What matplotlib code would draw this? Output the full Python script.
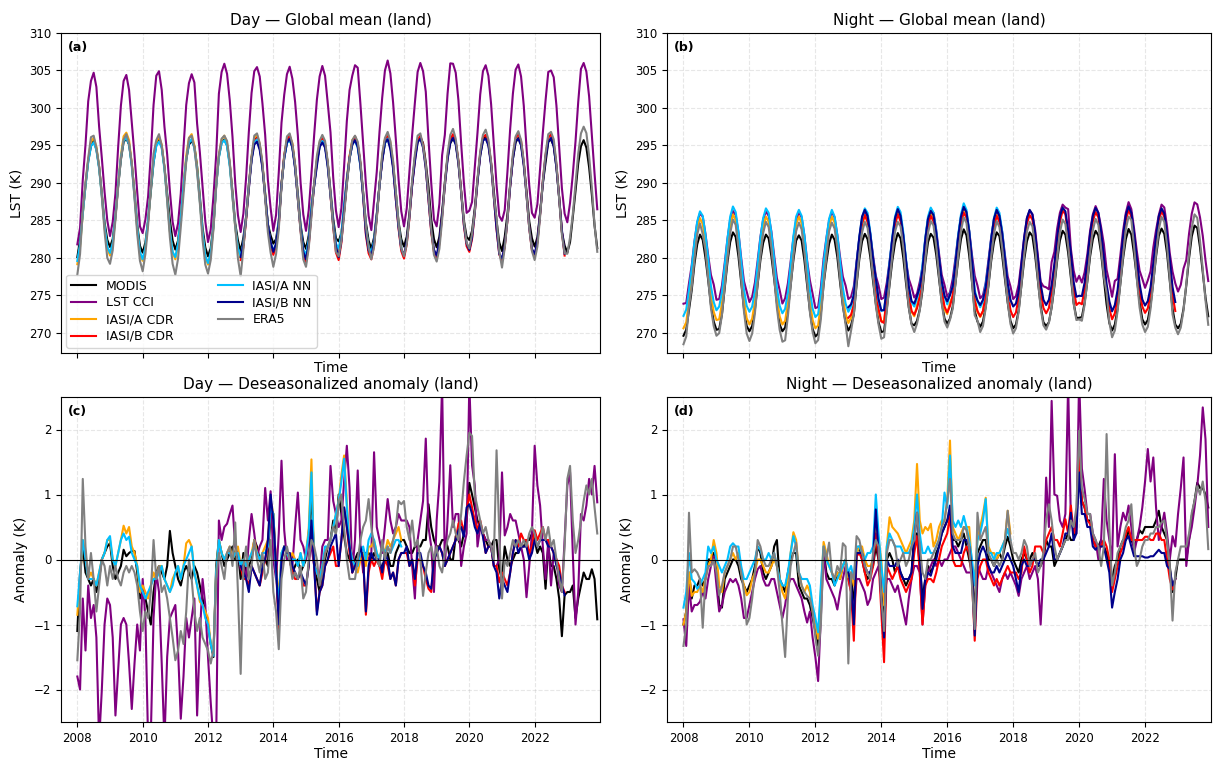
"""Global land LST: monthly means and deseasonalized anomalies, day and night.

The anomaly series are typed month by month (Jan 2008 onwards). The upper
panels show the absolute LST, i.e. each product's monthly climatology plus
its anomaly.
"""

import matplotlib
matplotlib.use("Agg")
import matplotlib.pyplot as plt
import numpy as np

# ---------------------------------------------------------------------------
# Monthly climatologies (Jan..Dec), K
# ---------------------------------------------------------------------------
day_clim_modis = [281.2, 282.6, 285.8, 289.8, 293.2, 295.3, 295.9, 295.0, 292.4, 288.6, 284.6, 282.2]
day_clim_cci = [283.6, 286.0, 291.0, 296.5, 301.3, 304.5, 305.4, 304.0, 300.3, 295.3, 289.8, 285.6]
day_clim_iasia_cdr = [280.0, 281.8, 285.5, 289.8, 293.4, 295.7, 296.3, 295.2, 292.4, 288.3, 284.0, 281.0]
day_clim_iasib_cdr = [279.8, 281.7, 285.4, 289.8, 293.4, 295.7, 296.3, 295.2, 292.4, 288.2, 283.9, 280.8]
day_clim_iasia_nn = [280.3, 282.0, 285.6, 289.7, 293.1, 295.2, 295.7, 294.8, 292.1, 288.2, 284.1, 281.2]
day_clim_iasib_nn = [280.2, 282.0, 285.6, 289.7, 293.1, 295.3, 295.8, 294.8, 292.1, 288.2, 284.1, 281.1]
day_clim_era5 = [279.3, 281.3, 285.2, 289.8, 293.6, 296.0, 296.6, 295.5, 292.6, 288.2, 283.6, 280.4]

night_clim_modis = [270.6, 271.2, 273.2, 276.3, 279.6, 282.2, 283.4, 282.8, 280.3, 277.0, 273.7, 271.4]
night_clim_cci = [274.8, 275.3, 277.0, 279.8, 282.9, 285.4, 286.6, 286.0, 283.8, 280.6, 277.8, 276.4]
night_clim_iasia_cdr = [271.6, 272.2, 274.4, 277.8, 281.3, 284.2, 285.7, 285.0, 282.3, 278.5, 274.9, 272.5]
night_clim_iasib_cdr = [272.3, 272.9, 275.0, 278.4, 281.8, 284.6, 285.9, 285.2, 282.7, 279.1, 275.5, 273.2]
night_clim_iasia_nn = [273.0, 273.6, 275.6, 279.0, 282.5, 285.3, 286.6, 285.9, 283.3, 279.7, 276.1, 273.9]
night_clim_iasib_nn = [273.6, 274.2, 276.0, 279.2, 282.7, 285.4, 286.5, 285.8, 283.3, 279.9, 276.5, 274.4]
night_clim_era5 = [269.8, 270.5, 272.8, 276.3, 280.0, 283.3, 284.9, 284.2, 281.3, 277.3, 273.4, 270.9]

# ---------------------------------------------------------------------------
# Day anomalies, K (one line per year)
# ---------------------------------------------------------------------------
day_anom_modis = [  # 2008-2023
    -1.1, -0.2, 0.2, -0.2, -0.3, -0.4, -0.3, -0.5, -0.3, 0.0, 0.1, 0.2,
    0.25, -0.1, -0.3, -0.2, -0.1, 0.15, 0.05, 0.1, 0.13, 0.13, -0.2, -0.6,
    -0.5, -0.6, -0.8, -1.0, -0.5, -0.2, -0.1, -0.2, -0.3, -0.1, 0.44, 0.1,
    -0.1, -0.3, -0.4, -0.2, -0.1, -0.2, -0.3, -0.1, -0.2, -0.4, -0.6, -0.8,
    -1.0, -1.3, -1.5, -0.1, 0.3, 0.1, -0.1, 0.0, 0.1, 0.2, 0.0, 0.1,
    -0.3, 0.1, -0.3, -0.1, 0.0, 0.3, 0.2, 0.0, -0.1, 0.0, -0.1, 0.8,
    0.7, -0.1, -0.9, 0.0, 0.2, 0.1, 0.0, -0.2, -0.1, 0.0, -0.2, -0.1,
    0.0, 0.4, 1.0, 0.0, -0.3, -0.5, -0.2, 0.0, 0.2, 0.3, 0.6, 0.4,
    1.0, 0.7, 0.36, 0.1, 0.0, -0.1, 0.0, 0.1, 0.1, 0.1, 0.1, 0.1,
    0.0, 0.1, 0.0, -0.1, -0.1, 0.0, 0.1, -0.1, -0.1, 0.1, 0.2, 0.3,
    0.3, 0.2, 0.1, 0.1, 0.2, 0.2, 0.2, 0.3, 0.3, 0.85, 0.5, 0.3,
    0.2, 0.2, 0.3, 0.3, 0.2, 0.0, 0.0, 0.36, 0.3, 0.2, 0.4, 0.6,
    1.18, 1.0, 0.8, 0.6, 0.5, 0.4, 0.3, 0.2, 0.2, 0.3, 0.3, -0.15,
    -0.3, 0.2, 0.0, -0.1, 0.0, 0.1, 0.1, 0.2, 0.2, 0.3, 0.3, 0.4,
    0.3, 0.1, 0.2, 0.1, -0.45, 0.2, -0.1, -0.1, -0.3, -0.6, -1.18, -0.55,
    -0.5, -0.5, -0.4, -0.9, -0.6, -0.4, -0.2, -0.3, -0.3, -0.15, -0.3, -0.92,
]
day_anom_cci = [  # 2008-2023
    -1.8, -2.0, -0.6, -1.4, -0.4, -0.9, -0.7, -1.2, -2.8, -2.0, -1.0, -0.6,
    -0.7, -1.2, -2.4, -1.7, -1.0, -0.9, -1.0, -1.6, -2.3, -1.6, -1.0, -1.4,
    -0.3, -0.9, -2.8, -2.7, -0.9, -0.2, -0.5, -1.6, -2.8, -1.5, -0.9, -0.8,
    -0.7, -1.4, -2.45, -1.8, -0.9, -1.2, -0.9, -0.6, -2.4, -1.2, -0.3, -0.7,
    -1.5, -2.2, -2.8, -2.8, 0.6, 0.3, 0.5, 0.55, 0.7, 0.83, 0.2, 0.1,
    -0.15, -0.1, -0.3, 0.3, 0.7, 0.4, 0.05, 0.2, 0.3, 1.1, 0.6, 1.05,
    0.0, -0.3, 0.4, 1.52, 0.45, 0.0, 0.1, -0.1, 0.5, 1.03, 0.3, 0.2,
    0.0, 0.35, 0.2, -0.1, -0.2, -0.3, 0.2, 0.3, 0.3, 1.44, 0.9, 0.7,
    0.5, 0.6, 1.2, 1.75, 1.1, -0.2, 0.3, 1.37, 0.2, -0.2, 0.1, 0.0,
    0.1, 1.65, 0.5, 0.3, 0.1, 0.5, 0.93, 0.6, 0.4, 0.5, 0.7, 0.6,
    0.6, 0.6, 0.5, -0.1, -0.6, 0.3, 0.6, 0.9, 1.86, 0.5, 0.2, -0.5,
    0.6, 1.2, 2.7, -0.1, 0.6, 1.45, 0.5, 0.7, 0.7, -0.1, 0.2, 0.4,
    2.7, 1.45, 1.14, 0.2, 0.5, 0.4, 0.3, 0.3, 0.2, -0.1, -0.1, 0.0,
    1.34, 0.37, 0.5, 0.7, 0.6, 0.6, 0.4, 0.2, 0.0, -0.58, -0.1, 0.4,
    1.75, 1.14, 0.83, 0.2, -0.3, 0.3, -0.4, 0.1, 0.0, -0.4, -0.5, 0.3,
    1.14, 1.34, 0.1, -1.0, -0.5, 0.7, 0.6, 0.83, 1.24, 1.0, 1.44, 0.88,
]
day_anom_iasia_cdr = [  # 2008-2017
    -0.85, -0.3, 0.3, 0.1, -0.3, -0.2, -0.3, -0.4, -0.2, 0.0, 0.1, 0.3,
    0.3, 0.0, -0.1, 0.1, 0.3, 0.52, 0.4, 0.5, 0.2, 0.1, -0.1, -0.5,
    -0.4, -0.5, -0.6, -0.4, -0.2, -0.3, -0.1, -0.1, -0.3, -0.4, -0.5, -0.3,
    -0.2, -0.1, -0.3, -0.1, 0.25, 0.3, 0.2, -0.2, -0.4, -0.65, -0.7, -0.8,
    -0.9, -1.3, -1.45, -0.2, 0.3, 0.1, 0.0, 0.1, 0.2, 0.0, 0.1, 0.2,
    -0.1, 0.0, -0.1, 0.0, 0.1, 0.3, 0.1, 0.0, 0.1, 0.2, 0.3, 0.9,
    0.7, -0.1, -0.6, 0.1, 0.2, 0.1, 0.0, 0.1, 0.0, -0.1, 0.1, -0.1,
    0.1, 0.47, 1.54, -0.1, -0.2, -0.3, -0.1, 0.1, 0.2, 0.3, 0.5, 0.7,
    0.9, 1.3, 1.6, 0.9, 0.2, 0.0, -0.1, -0.2, 0.0, 0.1, -0.1, 0.2,
    0.2, 0.3, 0.1, 0.0, 0.2, 0.1, 0.3, 0.2, 0.3, 0.4, 0.5, 0.3,
]
day_anom_iasib_cdr = [  # 2013-2022
    -0.1, -0.3, -0.3, -0.4, -0.1, -0.2, -0.3, -0.4, -0.2, 0.0, 0.2, 0.9,
    0.6, -0.1, -1.07, 0.0, 0.2, 0.1, 0.0, -0.2, -0.3, -0.3, -0.2, -0.4,
    -0.4, -0.1, 0.5, -0.1, -0.8, -0.5, -0.4, -0.1, 0.0, 0.1, 0.2, -0.1,
    -0.1, 0.3, 0.8, 0.5, 0.1, -0.2, -0.1, 0.0, 0.1, 0.0, -0.85, -0.2,
    0.0, -0.1, 0.0, -0.1, -0.3, 0.0, -0.1, -0.3, -0.2, -0.4, 0.0, 0.1,
    0.1, 0.1, -0.1, 0.0, -0.4, 0.0, 0.0, -0.1, -0.3, -0.45, -0.5, 0.0,
    0.1, 0.2, 0.1, -0.1, 0.0, 0.1, 0.2, 0.3, 0.55, 0.6, 0.4, 0.75,
    1.0, 0.8, 0.6, 0.45, 0.6, 0.4, 0.1, 0.2, 0.2, -0.1, -0.1, -0.35,
    -0.2, -0.3, -0.4, -0.2, 0.1, 0.3, 0.2, 0.4, 0.3, 0.3, 0.1, 0.2,
    0.45, 0.3, 0.4, 0.5, 0.3, 0.3, 0.2, 0.1, 0.0, -0.1, -0.4, -0.5,
]
day_anom_iasia_nn = [  # 2008-2017
    -0.72, -0.2, 0.3, 0.0, -0.3, -0.3, -0.3, -0.4, -0.2, 0.0, 0.1, 0.3,
    0.36, 0.0, -0.1, 0.1, 0.3, 0.4, 0.3, 0.35, 0.1, 0.0, -0.1, -0.4,
    -0.5, -0.6, -0.5, -0.4, -0.3, -0.3, -0.2, -0.1, -0.3, -0.4, -0.5, -0.4,
    -0.2, -0.1, -0.3, -0.1, 0.0, 0.1, 0.2, -0.2, -0.4, -0.6, -0.7, -0.9,
    -1.0, -1.3, -1.48, -0.2, 0.3, 0.1, 0.0, 0.1, 0.1, 0.0, 0.1, 0.1,
    -0.1, 0.0, -0.1, 0.0, 0.1, 0.2, 0.1, 0.0, 0.1, 0.1, 0.2, 0.8,
    0.7, -0.2, -0.7, 0.1, 0.2, 0.1, 0.0, 0.0, 0.0, -0.1, 0.1, -0.1,
    0.1, 0.4, 1.34, -0.1, -0.2, -0.3, -0.1, 0.2, 0.2, 0.3, 0.5, 0.7,
    0.9, 1.2, 1.55, 0.8, 0.2, 0.0, -0.1, -0.1, 0.1, 0.2, 0.0, 0.3,
    0.4, 0.3, 0.1, 0.0, 0.2, 0.1, 0.2, 0.1, 0.2, 0.3, 0.3, 0.2,
]
day_anom_iasib_nn = [  # 2013-2022
    -0.1, -0.2, -0.3, -0.5, -0.1, -0.2, -0.3, -0.4, -0.1, 0.0, 0.3, 1.0,
    0.6, -0.1, -1.0, 0.0, 0.2, 0.1, 0.1, -0.1, -0.2, -0.3, -0.2, -0.3,
    -0.4, -0.1, 0.6, -0.1, -0.85, -0.5, -0.4, -0.1, 0.0, 0.2, 0.3, 0.4,
    -0.1, 0.3, 0.8, 0.5, 0.2, -0.2, -0.1, 0.0, 0.2, 0.0, -0.8, -0.1,
    0.1, 0.0, 0.0, 0.0, -0.2, 0.1, 0.0, -0.3, -0.2, -0.4, 0.0, 0.1,
    0.1, 0.2, -0.1, 0.0, -0.3, 0.1, 0.1, -0.1, -0.2, -0.4, -0.45, 0.0,
    0.1, 0.2, 0.1, -0.1, 0.0, 0.1, 0.2, 0.3, 0.45, 0.5, 0.35, 0.8,
    0.85, 0.7, 0.5, 0.4, 0.55, 0.35, 0.1, 0.2, 0.2, -0.1, -0.2, -0.6,
    -0.3, -0.4, -0.5, -0.2, 0.1, 0.3, 0.1, 0.2, 0.2, 0.2, 0.0, 0.1,
    0.3, 0.2, 0.3, 0.3, 0.3, 0.2, 0.2, 0.1, -0.1, -0.2, -0.4, -0.55,
]
day_anom_era5 = [  # 2008-2023
    -1.55, -0.8, 1.24, 0.2, -0.3, 0.1, -0.3, -0.8, -0.4, 0.0, -0.1, -0.4,
    -0.1, -0.3, -0.1, -0.3, -0.4, -0.2, -0.1, -0.2, -0.1, -0.2, -0.4, -0.8,
    -1.1, -0.8, -0.9, -0.5, 0.3, -0.3, -0.1, -0.5, -0.4, -0.6, -0.9, -1.2,
    -1.55, -1.4, -1.1, -1.3, -0.8, 0.0, -0.3, -0.8, -1.1, -0.9, -1.2, -1.3,
    -1.4, -1.6, -1.4, -0.3, 0.1, -0.1, -0.3, 0.1, 0.2, -0.1, 0.57, -0.5,
    -1.76, -0.1, 0.2, -0.3, -0.1, 0.3, 0.0, -0.2, 0.1, -0.3, -0.2, 0.3,
    -0.5, -0.8, -1.38, -0.3, 0.0, 0.2, 0.0, -0.3, -0.2, -0.3, -0.1, -0.6,
    -0.5, 0.0, 0.3, 0.2, 0.0, -0.4, -0.2, 0.1, 0.2, 0.3, 0.5, 0.4,
    0.9, 1.0, 0.5, 0.0, -0.3, -0.3, -0.3, 0.0, 0.3, 0.5, 0.6, 0.93,
    0.5, 0.2, 0.0, -0.1, 0.3, 0.0, 0.2, 0.1, 0.3, 0.5, 0.9, 0.85,
    0.9, 0.5, 0.3, 0.6, 0.2, 0.3, 0.0, -0.56, -0.2, 0.1, 0.2, 0.0,
    0.2, -0.1, -0.2, 0.1, 0.3, 0.4, 0.6, 0.4, 0.3, 0.7, 1.2, 1.6,
    1.95, 1.9, 1.0, 0.8, 0.6, 0.4, 0.5, 0.3, 0.2, 0.0, 1.68, 0.4,
    -0.6, 0.0, -0.1, 0.1, 0.3, 0.2, 0.3, 0.2, 0.3, 0.2, 0.4, 0.5,
    0.4, 0.2, 0.3, 0.5, 0.3, 0.5, 0.2, 0.3, 0.0, -0.3, -0.5, 0.2,
    1.24, 1.44, 0.6, 0.1, 0.3, 0.6, 0.9, 1.14, 1.0, 1.24, 0.8, 0.4,
]

# ---------------------------------------------------------------------------
# Night anomalies, K
# ---------------------------------------------------------------------------
night_anom_modis = [  # 2008-2023
    -1.0, -0.8, -0.2, -0.6, -0.4, -0.4, -0.3, -0.4, -0.3, 0.0, 0.0, 0.1,
    -0.2, -0.7, -0.74, -0.3, -0.2, -0.1, 0.0, 0.0, -0.1, -0.3, -0.4, -0.5,
    -0.4, -0.3, -0.1, 0.2, 0.1, -0.2, -0.3, -0.2, -0.1, 0.2, 0.3, -0.3,
    -0.4, -0.5, -0.2, 0.0, 0.1, 0.1, -0.4, -0.5, -0.6, -0.6, -0.7, -0.9,
    -1.1, -1.33, -0.6, 0.15, -0.2, -0.3, -0.3, -0.4, -0.2, -0.3, -0.1, 0.0,
    -0.3, -0.2, -0.76, 0.1, 0.2, 0.0, -0.2, -0.3, -0.2, -0.1, 0.2, 0.0,
    -0.5, -1.0, 0.0, 0.1, 0.0, -0.2, -0.1, -0.2, -0.3, -0.4, -0.3, -0.2,
    0.4, 0.4, -0.1, -0.6, -0.3, -0.1, -0.2, -0.1, 0.1, 0.2, 0.4, 0.5,
    0.6, 0.7, 0.3, 0.3, 0.2, 0.3, 0.4, 0.2, 0.0, -0.2, -0.8, 0.1,
    0.2, 0.3, 0.3, 0.0, 0.0, -0.1, 0.0, 0.1, 0.0, 0.2, 0.35, 0.2,
    0.0, -0.1, -0.2, 0.0, 0.1, 0.0, 0.0, 0.1, 0.0, -0.1, -0.1, 0.0,
    0.3, 0.2, 0.2, -0.1, 0.0, 0.1, 0.2, 0.3, 0.4, 0.3, 0.3, 0.6,
    1.39, 0.9, 0.8, 0.6, 0.6, 0.3, 0.2, 0.2, 0.3, 0.2, 0.1, -0.1,
    -0.3, -0.1, 0.0, 0.2, 0.3, 0.3, 0.45, 0.3, 0.2, 0.3, 0.45, 0.4,
    0.5, 0.5, 0.5, 0.5, 0.6, 0.75, 0.5, 0.4, 0.3, -0.1, -0.5, -0.3,
    0.0, 0.0, 0.0, 0.0, 0.3, 0.67, 0.9, 1.18, 1.1, 1.1, 1.0, 0.8,
]
night_anom_cci = [  # 2008-2023
    -0.92, -1.33, -0.4, -0.8, -0.7, -0.7, -0.65, -0.5, -0.6, -0.3, -0.1, 0.05,
    -0.4, -0.8, -0.7, -0.5, -0.4, -0.3, -0.35, -0.3, -0.4, -0.6, -0.9, -0.9,
    -0.7, -0.5, -0.3, -0.15, -0.1, -0.3, -0.4, -0.4, -0.3, -0.3, -0.5, -0.7,
    -0.9, -0.7, -0.4, -0.3, -0.3, -0.4, -0.5, -0.6, -0.8, -0.97, -0.8, -1.2,
    -1.5, -1.87, -0.9, 0.1, -0.3, -0.4, -0.5, -0.6, -0.77, -0.5, -0.3, -0.1,
    -0.3, -0.5, -0.8, -0.3, -0.3, -0.4, -0.5, -0.7, -0.6, -0.3, -0.2, -0.1,
    -0.3, -0.6, -0.3, -0.3, -0.4, -0.5, -0.4, -0.6, -0.8, -1.0, -0.6, -0.3,
    -0.1, -0.1, -0.2, -1.0, -0.4, -0.2, -0.1, 0.0, -0.1, 0.0, -0.1, 0.0,
    0.0, 0.1, 0.2, 0.2, 0.1, 0.0, -0.1, -0.2, -0.2, -0.2, -0.2, -0.1,
    -0.2, -0.3, -0.3, -0.1, -0.2, -0.3, -0.4, -0.5, -0.3, -0.2, -0.3, -0.2,
    -0.3, -0.4, -0.56, -0.3, -0.2, -0.1, -0.3, -0.2, -0.1, -0.3, -1.0, -0.2,
    1.26, 0.5, 2.44, 1.0, 0.98, 0.6, 0.5, 0.7, 2.7, 0.6, 0.5, 0.4,
    2.8, 1.4, 1.08, 0.7, 0.7, 0.4, 0.3, 0.0, 0.3, 1.24, 0.6, 0.3,
    0.0, 1.62, 0.2, 0.5, 0.72, 0.6, 0.83, 0.5, 0.1, 0.3, 0.5, 0.8,
    1.2, 1.7, 1.2, 1.57, 0.8, 0.3, 0.5, 0.72, 0.4, 0.0, 0.36, 0.2,
    0.7, 1.1, 1.57, -0.1, 0.3, 0.5, 0.8, 1.13, 1.6, 2.34, 1.85, 0.5,
]
night_anom_iasia_cdr = [  # 2008-2017
    -1.0, -0.8, -0.2, -0.56, -0.5, -0.5, -0.4, -0.5, -0.3, -0.1, 0.0, 0.3,
    0.1, -0.4, -0.5, -0.2, -0.1, 0.0, 0.1, 0.0, 0.1, -0.2, -0.4, -0.55,
    -0.5, -0.3, -0.2, 0.0, 0.0, -0.1, -0.2, -0.2, -0.1, 0.0, -0.1, -0.3,
    -0.5, -0.6, -0.3, 0.1, 0.42, 0.3, -0.2, -0.4, -0.5, -0.4, -0.5, -0.8,
    -1.0, -1.22, -0.5, 0.27, 0.1, -0.1, -0.2, -0.3, -0.2, -0.3, -0.1, 0.0,
    -0.3, -0.2, -0.4, 0.1, 0.2, 0.2, 0.0, -0.1, -0.1, 0.0, 0.52, 0.3,
    0.0, -0.7, 0.2, 0.65, 0.5, 0.45, 0.4, 0.3, 0.2, 0.1, 0.2, 0.3,
    0.6, 1.47, 0.6, 0.4, 0.5, 0.45, 0.55, 0.2, 0.3, 0.5, 0.6, 0.6,
    0.9, 1.83, 0.5, 0.4, 0.3, 0.4, 0.5, 0.5, 0.5, -0.1, -0.3, 0.3,
    0.5, 0.7, 0.95, 0.2, 0.1, 0.1, 0.0, 0.1, 0.2, 0.3, 0.75, 0.4,
]
night_anom_iasib_cdr = [  # 2013-2022
    -0.3, -0.5, -1.25, 0.05, 0.1, 0.0, -0.2, -0.4, -0.3, -0.1, 0.4, 0.0,
    -0.8, -1.58, -0.1, -0.2, -0.3, -0.2, -0.1, -0.3, -0.4, -0.5, -0.4, -0.3,
    0.1, 0.36, -0.2, -1.0, -0.4, -0.3, -0.3, -0.35, -0.2, 0.0, 0.2, 0.3,
    0.4, 0.67, 0.0, -0.1, -0.1, -0.1, 0.1, 0.2, 0.1, -0.3, -1.25, -0.3,
    -0.1, 0.0, 0.0, -0.2, -0.3, -0.4, -0.3, -0.4, -0.3, -0.2, -0.1, -0.2,
    -0.2, -0.2, -0.3, -0.2, 0.2, 0.0, -0.2, -0.1, 0.2, 0.2, 0.2, 0.1,
    0.3, 0.4, 0.5, 0.3, 0.3, 0.2, 0.4, 0.62, 0.4, 0.83, 0.4, 0.5,
    1.72, 0.9, 0.8, 0.6, 0.55, 0.3, 0.2, 0.2, 0.2, 0.3, 0.2, 0.0,
    -0.5, -0.3, -0.1, 0.1, 0.2, 0.4, 0.5, 0.3, 0.3, 0.3, 0.3, 0.3,
    0.35, 0.35, 0.3, 0.3, 0.4, 0.4, 0.3, 0.3, 0.0, -0.3, -0.46, -0.3,
]
night_anom_iasia_nn = [  # 2008-2017
    -0.74, -0.5, 0.1, -0.3, -0.35, -0.45, -0.4, -0.3, -0.2, 0.2, 0.1, 0.2,
    0.0, -0.1, -0.2, -0.1, 0.0, 0.2, 0.25, 0.2, 0.2, -0.1, -0.3, -0.3,
    -0.2, -0.1, 0.0, 0.2, 0.15, 0.0, 0.0, 0.1, 0.0, 0.1, -0.1, -0.3,
    -0.4, -0.4, -0.2, 0.1, 0.36, 0.2, -0.2, -0.3, -0.3, -0.3, -0.4, -0.7,
    -0.9, -1.12, -0.4, 0.2, 0.0, -0.1, -0.2, -0.4, -0.3, -0.2, -0.1, 0.0,
    -0.2, -0.1, -0.3, 0.2, 0.2, 0.1, 0.0, 0.1, 0.1, 0.2, 1.0, 0.4,
    -0.1, -0.5, 0.2, 0.4, 0.3, 0.2, 0.2, 0.2, 0.1, 0.1, 0.1, 0.2,
    0.5, 1.0, 0.4, 0.1, 0.1, 0.2, 0.1, 0.1, 0.2, 0.3, 0.5, 1.03,
    0.8, 1.6, 0.6, 0.5, 0.6, 0.5, 0.67, 0.5, 0.3, 0.0, -0.4, 0.3,
    0.4, 0.6, 0.93, 0.1, 0.1, 0.0, 0.1, 0.1, 0.2, 0.3, 0.47, 0.3,
]
night_anom_iasib_nn = [  # 2013-2022
    -0.2, -0.4, -1.0, 0.1, 0.1, 0.1, -0.1, -0.2, -0.2, 0.0, 0.77, 0.1,
    -0.6, -1.2, 0.0, -0.1, -0.1, -0.1, 0.0, -0.2, -0.3, -0.3, -0.3, -0.2,
    0.3, 0.72, 0.1, -0.76, -0.3, -0.2, -0.25, -0.1, 0.0, 0.2, 0.4, 0.5,
    0.6, 0.83, 0.2, 0.1, 0.1, 0.1, 0.3, 0.3, 0.2, -0.2, -1.17, -0.1,
    0.1, 0.2, 0.1, -0.1, -0.2, -0.2, -0.1, -0.2, -0.1, 0.0, 0.1, 0.0,
    -0.1, -0.3, -0.5, -0.1, 0.0, -0.1, -0.1, 0.0, 0.0, -0.1, 0.0, 0.0,
    0.1, 0.2, 0.4, 0.0, 0.0, 0.1, 0.2, 0.4, 0.4, 0.72, 0.3, 0.4,
    1.34, 0.7, 0.7, 0.5, 0.5, 0.2, 0.15, 0.2, 0.2, 0.2, 0.0, -0.2,
    -0.74, -0.5, -0.3, 0.0, 0.1, 0.3, 0.36, 0.2, 0.05, 0.05, 0.05, 0.05,
    0.03, 0.03, 0.05, 0.05, 0.1, 0.15, 0.1, 0.1, -0.1, -0.15, -0.4, -0.3,
]
night_anom_era5 = [  # 2008-2023
    -1.33, -1.0, 0.72, -0.2, -0.15, -0.2, -0.3, -1.05, -0.3, -0.1, -0.1, 0.0,
    -0.2, -0.55, -0.4, -0.2, -0.1, 0.0, 0.2, 0.2, 0.0, -0.2, -0.5, -1.0,
    -0.9, -0.6, -0.2, 0.3, 0.2, 0.0, -0.1, -0.1, 0.0, 0.1, -0.1, -0.5,
    -1.0, -1.5, -0.6, -0.1, 0.1, 0.26, -0.2, -0.4, -0.5, -0.56, -0.6, -0.8,
    -1.2, -1.48, -1.0, 0.2, 0.0, 0.26, -0.2, -0.3, -0.1, -0.2, 0.25, 0.2,
    -1.6, -0.2, -0.3, 0.36, 0.3, 0.1, -0.1, -0.2, -0.3, 0.1, 0.3, 0.2,
    -0.6, -1.1, 0.1, 0.3, 0.3, 0.2, -0.1, 0.0, 0.1, -0.1, 0.0, 0.2,
    0.3, 0.72, 0.2, -0.2, -0.3, 0.0, 0.0, 0.1, 0.2, 0.3, 0.5, 0.6,
    0.9, 1.24, 0.4, 0.3, 0.3, 0.3, 0.5, 0.45, 0.2, -0.4, -1.07, 0.72,
    0.3, 0.4, 0.5, 0.1, 0.0, -0.1, 0.0, -0.1, 0.0, 0.3, 0.75, 0.3,
    0.1, 0.1, 0.0, 0.1, 0.3, 0.2, -0.1, 0.0, 0.1, -0.2, -0.1, 0.1,
    0.62, 0.85, 0.6, 0.2, 0.0, 0.1, 0.2, 0.3, 0.3, 0.6, 0.5, 0.8,
    1.98, 1.1, 0.93, 0.7, 0.7, 0.4, 0.3, 0.2, -0.1, 0.2, 1.93, 0.5,
    -0.4, -0.2, 0.1, 0.2, 0.3, 0.5, 0.6, 0.85, 0.2, -0.1, 0.0, 0.2,
    0.3, 0.3, 0.4, 0.4, 0.5, 0.5, 0.57, 0.6, 0.3, -0.1, -0.94, -0.2,
    0.0, 0.2, 0.2, 0.2, 0.4, 0.72, 0.9, 1.13, 1.0, 1.2, 0.9, 0.16,
]

# product name, colour, first month of record (0 = Jan 2008)
PRODUCTS = [
    ("MODIS", "black", 0),
    ("LST CCI", "purple", 0),
    ("IASI/A CDR", "orange", 0),
    ("IASI/B CDR", "red", 60),
    ("IASI/A NN", "deepskyblue", 0),
    ("IASI/B NN", "darkblue", 60),
    ("ERA5", "gray", 0),
]

DAY = {
    "MODIS": (day_clim_modis, day_anom_modis),
    "LST CCI": (day_clim_cci, day_anom_cci),
    "IASI/A CDR": (day_clim_iasia_cdr, day_anom_iasia_cdr),
    "IASI/B CDR": (day_clim_iasib_cdr, day_anom_iasib_cdr),
    "IASI/A NN": (day_clim_iasia_nn, day_anom_iasia_nn),
    "IASI/B NN": (day_clim_iasib_nn, day_anom_iasib_nn),
    "ERA5": (day_clim_era5, day_anom_era5),
}
NIGHT = {
    "MODIS": (night_clim_modis, night_anom_modis),
    "LST CCI": (night_clim_cci, night_anom_cci),
    "IASI/A CDR": (night_clim_iasia_cdr, night_anom_iasia_cdr),
    "IASI/B CDR": (night_clim_iasib_cdr, night_anom_iasib_cdr),
    "IASI/A NN": (night_clim_iasia_nn, night_anom_iasia_nn),
    "IASI/B NN": (night_clim_iasib_nn, night_anom_iasib_nn),
    "ERA5": (night_clim_era5, night_anom_era5),
}

LW = 1.5


def month_axis(start, n):
    return 2008 + (start + np.arange(n)) / 12.0


def with_climatology(clim, anom, start):
    moy = (start + np.arange(len(anom))) % 12
    return np.asarray(clim)[moy] + np.asarray(anom)


def style_axis(ax, label, title, ylabel):
    ax.set_xlim(2007.5, 2024.0)
    ax.set_xticks(range(2008, 2023, 2))
    ax.grid(True, linestyle="--", alpha=0.3)
    ax.set_title(title, fontsize=11)
    ax.set_xlabel("Time", fontsize=10, labelpad=2)
    ax.set_ylabel(ylabel, fontsize=10)
    ax.tick_params(labelsize=8.5)
    ax.text(0.012, 0.975, label, transform=ax.transAxes, ha="left", va="top",
            fontsize=9, fontweight="bold")


def plot_absolute(ax, data):
    for name, color, start in PRODUCTS:
        clim, anom = data[name]
        ax.plot(month_axis(start, len(anom)), with_climatology(clim, anom, start),
                color=color, lw=LW, label=name)
    ax.set_ylim(267.3, 310)
    ax.set_yticks(range(270, 311, 5))
    ax.tick_params(labelbottom=False)


def plot_anomaly(ax, data):
    for name, color, start in PRODUCTS:
        anom = data[name][1]
        ax.plot(month_axis(start, len(anom)), anom, color=color, lw=LW, label=name)
    ax.axhline(0, color="black", lw=0.8)
    ax.set_ylim(-2.5, 2.5)
    ax.set_yticks([-2, -1, 0, 1, 2])


def main():
    fig = plt.figure(figsize=(12.15, 7.62), dpi=100)
    W, H = 1215.0, 762.0
    ax_a = fig.add_axes([61 / W, 1 - 353 / H, 539 / W, 320 / H])
    ax_b = fig.add_axes([667 / W, 1 - 353 / H, 544 / W, 320 / H])
    ax_c = fig.add_axes([61 / W, 1 - 722 / H, 539 / W, 325 / H])
    ax_d = fig.add_axes([667 / W, 1 - 722 / H, 544 / W, 325 / H])

    plot_absolute(ax_a, DAY)
    style_axis(ax_a, "(a)", "Day \u2014 Global mean (land)", "LST (K)")
    plot_absolute(ax_b, NIGHT)
    style_axis(ax_b, "(b)", "Night \u2014 Global mean (land)", "LST (K)")
    plot_anomaly(ax_c, DAY)
    style_axis(ax_c, "(c)", "Day \u2014 Deseasonalized anomaly (land)", "Anomaly (K)")
    plot_anomaly(ax_d, NIGHT)
    style_axis(ax_d, "(d)", "Night \u2014 Deseasonalized anomaly (land)", "Anomaly (K)")

    ax_a.legend(loc="lower left", ncol=2, fontsize=9, labelspacing=0.3,
                columnspacing=3.5, handlelength=2.0, borderaxespad=0.4)

    fig.savefig("out.png", dpi=100)
    plt.close(fig)


if __name__ == "__main__":
    main()
